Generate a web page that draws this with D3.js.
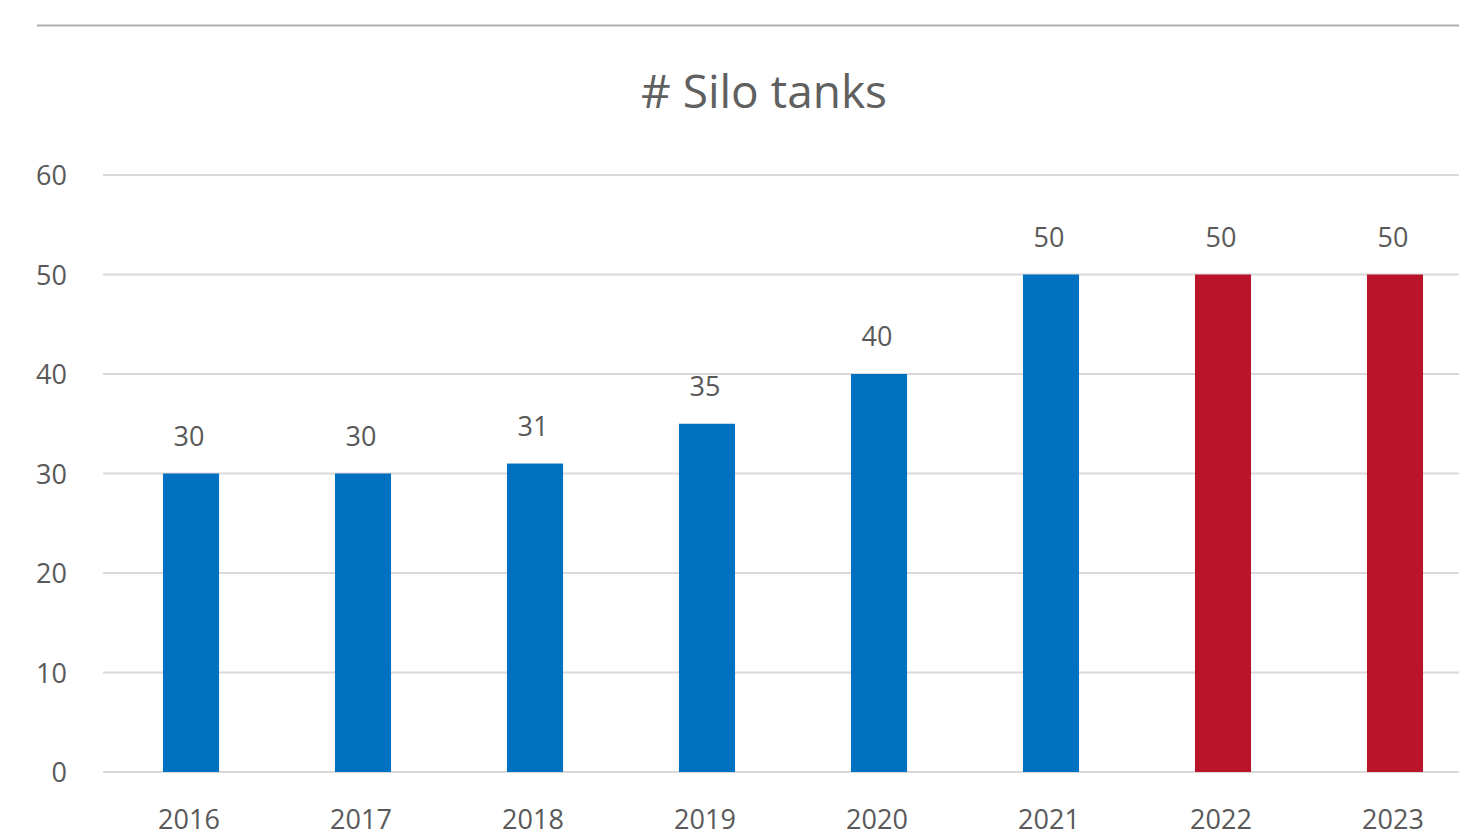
<!DOCTYPE html>
<html>
<head>
<meta charset="utf-8">
<script src="https://cdn.jsdelivr.net/npm/d3@7"></script>
<style>
  body { margin: 0; background: #fff; }
  text { font-family: "Open Sans", "Noto Sans", sans-serif; fill: #595959; }
</style>
</head>
<body>
<div id="chart"></div>
<script>
// data
const years = ["2016", "2017", "2018", "2019", "2020", "2021", "2022", "2023"];
const tanks = [30, 30, 31, 35, 40, 50, 50, 50];
const barColors = ["#0070C0", "#0070C0", "#0070C0", "#0070C0", "#0070C0", "#0070C0", "#BA142B", "#BA142B"];
const yTicks = [0, 10, 20, 30, 40, 50, 60];

const width = 1459;
const height = 834;

const svg = d3.select("#chart")
    .append("svg")
    .attr("width", width)
    .attr("height", height);

// top rule
svg.append("line")
    .attr("x1", 37).attr("x2", width)
    .attr("y1", 25.5).attr("y2", 25.5)
    .attr("stroke", "#b0b0b0")
    .attr("stroke-width", 2);

// title
svg.append("text")
    .attr("x", 764)
    .attr("y", 108)
    .attr("text-anchor", "middle")
    .style("font-size", "46px")
    .style("fill", "#606060")
    .text("# Silo tanks");

// scales
const x = d3.scaleBand()
    .domain(years)
    .range([105, 1481])
    .paddingInner(0.674)
    .paddingOuter(0.337);

const y = d3.scaleLinear()
    .domain([0, 60])
    .range([772, 175]);

// gridlines
svg.append("g")
    .selectAll("line")
    .data(yTicks)
    .join("line")
    .attr("x1", 103)
    .attr("x2", width)
    .attr("y1", d => y(d))
    .attr("y2", d => y(d))
    .attr("stroke", "#d9d9d9")
    .attr("stroke-width", 2);

// y labels
svg.append("g")
    .selectAll("text")
    .data(yTicks)
    .join("text")
    .attr("x", 67)
    .attr("y", d => y(d) + 10)
    .attr("text-anchor", "end")
    .style("font-size", "27px")
    .text(d => d);

// bars
svg.append("g")
    .selectAll("rect")
    .data(years)
    .join("rect")
    .attr("x", d => x(d))
    .attr("width", x.bandwidth())
    .attr("y", (d, i) => y(tanks[i]))
    .attr("height", (d, i) => y(0) - y(tanks[i]))
    .attr("fill", (d, i) => barColors[i]);

// value labels
svg.append("g")
    .selectAll("text")
    .data(years)
    .join("text")
    .attr("x", d => x(d) + x.bandwidth() / 2 - 2)
    .attr("y", (d, i) => y(tanks[i]) - 28)
    .attr("text-anchor", "middle")
    .style("font-size", "27px")
    .text((d, i) => tanks[i]);

// x labels
svg.append("g")
    .selectAll("text")
    .data(years)
    .join("text")
    .attr("x", d => x(d) + x.bandwidth() / 2 - 2)
    .attr("y", 829)
    .attr("text-anchor", "middle")
    .style("font-size", "27px")
    .text(d => d);
</script>
</body>
</html>
